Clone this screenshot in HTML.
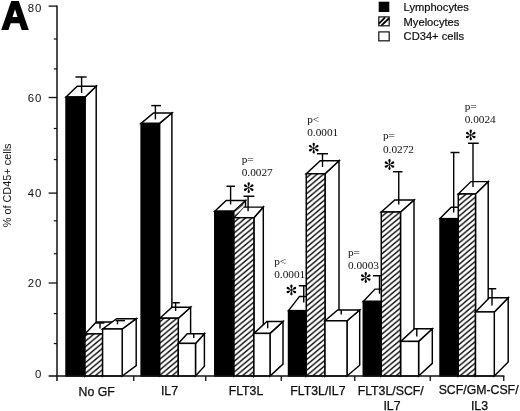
<!DOCTYPE html>
<html><head><meta charset="utf-8"><title>Figure A</title>
<style>
html,body{margin:0;padding:0;background:#fff;}
body{width:520px;height:411px;overflow:hidden;}
svg{display:block;filter:grayscale(1);}
text{font-family:"Liberation Sans",sans-serif;fill:#111;}
.ser{font-family:"Liberation Serif",serif;}
</style></head><body>
<svg width="520" height="411" viewBox="0 0 520 411">
<defs>
<pattern id="hatch" patternUnits="userSpaceOnUse" width="6.400" height="5.350" x="0" y="0.64">
<rect width="6.400" height="5.350" fill="#fff"/>
<path d="M-1.600,1.337 L1.600,-1.337 M-1.600,6.688 L8.000,-1.337 M4.800,6.688 L8.000,4.012" stroke="#000" stroke-width="1.32" fill="none"/>
</pattern>
</defs>
<rect width="520" height="411" fill="#fff"/>
<text transform="translate(1.5,28.9) scale(0.95,1)" font-size="39.5" font-weight="bold" style="fill:#000;stroke:#000;stroke-width:1.8px;stroke-linejoin:miter">A</text>
<rect x="378.7" y="1.7" width="10.6" height="10.3" fill="#000"/>
<rect x="378.8" y="16.9" width="10.4" height="8.9" fill="#fff" stroke="#111" stroke-width="1.2"/>
<path d="M378.9,23.6 L385.1,17.3 M381.3,25.6 L389.1,18.3" stroke="#000" stroke-width="1.9" fill="none"/>
<rect x="378.8" y="31.9" width="10.4" height="8.9" fill="#fff" stroke="#111" stroke-width="1.2"/>
<text x="403.6" y="10.6" font-size="11.15" stroke="#000" stroke-width="0.2">Lymphocytes</text>
<text x="403.6" y="25.5" font-size="11.15" stroke="#000" stroke-width="0.2">Myelocytes</text>
<text x="403.6" y="40.1" font-size="11.15" stroke="#000" stroke-width="0.2">CD34+ cells</text>
<text transform="translate(11.1,185.4) rotate(-90)" text-anchor="middle" font-size="10.9">% of CD45+ cells</text>
<path d="M85.00,97.00 L96.20,86.30 L96.20,365.30 L85.00,376.00 Z" fill="#fff" stroke="#000" stroke-width="1.45" stroke-linejoin="miter"/>
<path d="M66.00,97.00 L77.20,86.30 L96.20,86.30 L85.00,97.00 Z" fill="#fff" stroke="#000" stroke-width="1.45" stroke-linejoin="miter"/>
<rect x="66.00" y="97.00" width="19.00" height="279.00" fill="#000" stroke="#000" stroke-width="1.45"/>
<path d="M102.60,333.90 L113.90,322.00 L113.90,364.10 L102.60,376.00 Z" fill="#fff" stroke="#000" stroke-width="1.45" stroke-linejoin="miter"/>
<path d="M85.00,333.90 L96.30,322.00 L113.90,322.00 L102.60,333.90 Z" fill="#fff" stroke="#000" stroke-width="1.45" stroke-linejoin="miter"/>
<rect x="85.00" y="333.90" width="17.60" height="42.10" fill="url(#hatch)" stroke="#000" stroke-width="1.45"/>
<path d="M122.20,329.00 L136.20,318.70 L136.20,365.70 L122.20,376.00 Z" fill="#fff" stroke="#000" stroke-width="1.45" stroke-linejoin="miter"/>
<path d="M102.60,329.00 L116.60,318.70 L136.20,318.70 L122.20,329.00 Z" fill="#fff" stroke="#000" stroke-width="1.45" stroke-linejoin="miter"/>
<rect x="102.60" y="329.00" width="19.60" height="47.00" fill="#fff" stroke="#000" stroke-width="1.45"/>
<path d="M159.50,123.40 L171.90,113.00 L171.90,365.60 L159.50,376.00 Z" fill="#fff" stroke="#000" stroke-width="1.45" stroke-linejoin="miter"/>
<path d="M141.10,123.40 L153.50,113.00 L171.90,113.00 L159.50,123.40 Z" fill="#fff" stroke="#000" stroke-width="1.45" stroke-linejoin="miter"/>
<rect x="141.10" y="123.40" width="18.40" height="252.60" fill="#000" stroke="#000" stroke-width="1.45"/>
<path d="M178.30,318.20 L190.60,307.20 L190.60,365.00 L178.30,376.00 Z" fill="#fff" stroke="#000" stroke-width="1.45" stroke-linejoin="miter"/>
<path d="M159.75,318.20 L172.05,307.20 L190.60,307.20 L178.30,318.20 Z" fill="#fff" stroke="#000" stroke-width="1.45" stroke-linejoin="miter"/>
<rect x="159.75" y="318.20" width="18.55" height="57.80" fill="url(#hatch)" stroke="#000" stroke-width="1.45"/>
<path d="M195.50,343.40 L204.40,333.70 L204.40,366.30 L195.50,376.00 Z" fill="#fff" stroke="#000" stroke-width="1.45" stroke-linejoin="miter"/>
<path d="M178.30,343.40 L187.20,333.70 L204.40,333.70 L195.50,343.40 Z" fill="#fff" stroke="#000" stroke-width="1.45" stroke-linejoin="miter"/>
<rect x="178.30" y="343.40" width="17.20" height="32.60" fill="#fff" stroke="#000" stroke-width="1.45"/>
<path d="M234.00,211.25 L245.50,200.55 L245.50,365.30 L234.00,376.00 Z" fill="#fff" stroke="#000" stroke-width="1.45" stroke-linejoin="miter"/>
<path d="M214.75,211.25 L226.25,200.55 L245.50,200.55 L234.00,211.25 Z" fill="#fff" stroke="#000" stroke-width="1.45" stroke-linejoin="miter"/>
<rect x="214.75" y="211.25" width="19.25" height="164.75" fill="#000" stroke="#000" stroke-width="1.45"/>
<path d="M253.90,217.70 L263.30,207.10 L263.30,365.40 L253.90,376.00 Z" fill="#fff" stroke="#000" stroke-width="1.45" stroke-linejoin="miter"/>
<path d="M234.00,217.70 L243.40,207.10 L263.30,207.10 L253.90,217.70 Z" fill="#fff" stroke="#000" stroke-width="1.45" stroke-linejoin="miter"/>
<rect x="234.00" y="217.70" width="19.90" height="158.30" fill="url(#hatch)" stroke="#000" stroke-width="1.45"/>
<path d="M270.00,333.40 L283.00,321.50 L283.00,364.10 L270.00,376.00 Z" fill="#fff" stroke="#000" stroke-width="1.45" stroke-linejoin="miter"/>
<path d="M253.90,333.40 L266.90,321.50 L283.00,321.50 L270.00,333.40 Z" fill="#fff" stroke="#000" stroke-width="1.45" stroke-linejoin="miter"/>
<rect x="253.90" y="333.40" width="16.10" height="42.60" fill="#fff" stroke="#000" stroke-width="1.45"/>
<path d="M306.25,310.60 L317.25,296.40 L317.25,361.80 L306.25,376.00 Z" fill="#fff" stroke="#000" stroke-width="1.45" stroke-linejoin="miter"/>
<path d="M288.50,310.60 L299.50,296.40 L317.25,296.40 L306.25,310.60 Z" fill="#fff" stroke="#000" stroke-width="1.45" stroke-linejoin="miter"/>
<rect x="288.50" y="310.60" width="17.75" height="65.40" fill="#000" stroke="#000" stroke-width="1.45"/>
<path d="M325.00,173.75 L339.00,160.75 L339.00,363.00 L325.00,376.00 Z" fill="#fff" stroke="#000" stroke-width="1.45" stroke-linejoin="miter"/>
<path d="M306.25,173.75 L320.25,160.75 L339.00,160.75 L325.00,173.75 Z" fill="#fff" stroke="#000" stroke-width="1.45" stroke-linejoin="miter"/>
<rect x="306.25" y="173.75" width="18.75" height="202.25" fill="url(#hatch)" stroke="#000" stroke-width="1.45"/>
<path d="M347.00,320.80 L359.70,310.00 L359.70,365.20 L347.00,376.00 Z" fill="#fff" stroke="#000" stroke-width="1.45" stroke-linejoin="miter"/>
<path d="M325.00,320.80 L337.70,310.00 L359.70,310.00 L347.00,320.80 Z" fill="#fff" stroke="#000" stroke-width="1.45" stroke-linejoin="miter"/>
<rect x="325.00" y="320.80" width="22.00" height="55.20" fill="#fff" stroke="#000" stroke-width="1.45"/>
<path d="M381.25,301.40 L393.00,289.10 L393.00,363.70 L381.25,376.00 Z" fill="#fff" stroke="#000" stroke-width="1.45" stroke-linejoin="miter"/>
<path d="M363.25,301.40 L375.00,289.10 L393.00,289.10 L381.25,301.40 Z" fill="#fff" stroke="#000" stroke-width="1.45" stroke-linejoin="miter"/>
<rect x="363.25" y="301.40" width="18.00" height="74.60" fill="#000" stroke="#000" stroke-width="1.45"/>
<path d="M400.50,212.00 L414.00,200.00 L414.00,364.00 L400.50,376.00 Z" fill="#fff" stroke="#000" stroke-width="1.45" stroke-linejoin="miter"/>
<path d="M381.25,212.00 L394.75,200.00 L414.00,200.00 L400.50,212.00 Z" fill="#fff" stroke="#000" stroke-width="1.45" stroke-linejoin="miter"/>
<rect x="381.25" y="212.00" width="19.25" height="164.00" fill="url(#hatch)" stroke="#000" stroke-width="1.45"/>
<path d="M418.60,341.40 L432.30,328.80 L432.30,363.40 L418.60,376.00 Z" fill="#fff" stroke="#000" stroke-width="1.45" stroke-linejoin="miter"/>
<path d="M400.80,341.40 L414.50,328.80 L432.30,328.80 L418.60,341.40 Z" fill="#fff" stroke="#000" stroke-width="1.45" stroke-linejoin="miter"/>
<rect x="400.80" y="341.40" width="17.80" height="34.60" fill="#fff" stroke="#000" stroke-width="1.45"/>
<path d="M458.25,218.60 L469.50,207.20 L469.50,364.60 L458.25,376.00 Z" fill="#fff" stroke="#000" stroke-width="1.45" stroke-linejoin="miter"/>
<path d="M440.00,218.60 L451.25,207.20 L469.50,207.20 L458.25,218.60 Z" fill="#fff" stroke="#000" stroke-width="1.45" stroke-linejoin="miter"/>
<rect x="440.00" y="218.60" width="18.25" height="157.40" fill="#000" stroke="#000" stroke-width="1.45"/>
<path d="M475.50,194.00 L488.20,181.60 L488.20,363.60 L475.50,376.00 Z" fill="#fff" stroke="#000" stroke-width="1.45" stroke-linejoin="miter"/>
<path d="M458.25,194.00 L470.95,181.60 L488.20,181.60 L475.50,194.00 Z" fill="#fff" stroke="#000" stroke-width="1.45" stroke-linejoin="miter"/>
<rect x="458.25" y="194.00" width="17.25" height="182.00" fill="url(#hatch)" stroke="#000" stroke-width="1.45"/>
<path d="M494.30,311.90 L508.20,297.80 L508.20,361.90 L494.30,376.00 Z" fill="#fff" stroke="#000" stroke-width="1.45" stroke-linejoin="miter"/>
<path d="M475.50,311.90 L489.40,297.80 L508.20,297.80 L494.30,311.90 Z" fill="#fff" stroke="#000" stroke-width="1.45" stroke-linejoin="miter"/>
<rect x="475.50" y="311.90" width="18.80" height="64.10" fill="#fff" stroke="#000" stroke-width="1.45"/>
<path d="M234.6,211.0 L243.4,202.9 L243.4,207.4 L234.6,217.2 Z" fill="url(#hatch)" stroke="none"/>
<path d="M57,5.4 L57,381" stroke="#111" stroke-width="1.5" fill="none"/>
<path d="M48.6,376 L504.4,376" stroke="#111" stroke-width="1.5" fill="none"/>
<path d="M48.6,6.10 L57,6.10" stroke="#111" stroke-width="1.3" fill="none"/>
<path d="M48.6,97.50 L57,97.50" stroke="#111" stroke-width="1.3" fill="none"/>
<path d="M48.6,193.10 L57,193.10" stroke="#111" stroke-width="1.3" fill="none"/>
<path d="M48.6,283.00 L57,283.00" stroke="#111" stroke-width="1.3" fill="none"/>
<path d="M53.8,39.00 L57,39.00" stroke="#111" stroke-width="1.2" fill="none"/>
<path d="M53.8,68.90 L57,68.90" stroke="#111" stroke-width="1.2" fill="none"/>
<path d="M53.8,128.50 L57,128.50" stroke="#111" stroke-width="1.2" fill="none"/>
<path d="M53.8,159.60 L57,159.60" stroke="#111" stroke-width="1.2" fill="none"/>
<path d="M53.8,220.80 L57,220.80" stroke="#111" stroke-width="1.2" fill="none"/>
<path d="M53.8,253.70 L57,253.70" stroke="#111" stroke-width="1.2" fill="none"/>
<path d="M53.8,313.60 L57,313.60" stroke="#111" stroke-width="1.2" fill="none"/>
<path d="M53.8,343.60 L57,343.60" stroke="#111" stroke-width="1.2" fill="none"/>
<path d="M133.75,376 L133.75,381" stroke="#111" stroke-width="1.3" fill="none"/>
<path d="M205.75,376 L205.75,381" stroke="#111" stroke-width="1.3" fill="none"/>
<path d="M281.25,376 L281.25,381" stroke="#111" stroke-width="1.3" fill="none"/>
<path d="M354.75,376 L354.75,381" stroke="#111" stroke-width="1.3" fill="none"/>
<path d="M430.25,376 L430.25,381" stroke="#111" stroke-width="1.3" fill="none"/>
<path d="M503.75,376 L503.75,381" stroke="#111" stroke-width="1.3" fill="none"/>
<text transform="translate(42.5,11.50) scale(1.12,1)" text-anchor="end" font-size="10.2" letter-spacing="0.94">80</text>
<text transform="translate(42.5,101.60) scale(1.12,1)" text-anchor="end" font-size="10.2" letter-spacing="0.94">60</text>
<text transform="translate(42.5,196.50) scale(1.12,1)" text-anchor="end" font-size="10.2" letter-spacing="0.94">40</text>
<text transform="translate(42.5,287.40) scale(1.12,1)" text-anchor="end" font-size="10.2" letter-spacing="0.94">20</text>
<text transform="translate(42.5,377.90) scale(1.12,1)" text-anchor="end" font-size="10.2" letter-spacing="0.94">0</text>
<path d="M81.60,77.00 L81.60,93.00" stroke="#000" stroke-width="1.4" fill="none"/>
<path d="M75.40,77.00 L86.60,77.00" stroke="#000" stroke-width="1.45" fill="none"/>
<path d="M100.00,323.00 L100.00,328.50" stroke="#000" stroke-width="1.4" fill="none"/>
<path d="M95.60,323.00 L104.40,323.00" stroke="#000" stroke-width="1.45" fill="none"/>
<path d="M117.50,320.60 L117.50,324.40" stroke="#000" stroke-width="1.4" fill="none"/>
<path d="M115.60,320.60 L125.00,320.60" stroke="#000" stroke-width="1.45" fill="none"/>
<path d="M155.40,105.60 L155.40,119.40" stroke="#000" stroke-width="1.4" fill="none"/>
<path d="M151.25,105.60 L161.00,105.60" stroke="#000" stroke-width="1.45" fill="none"/>
<path d="M175.60,302.75 L175.60,311.00" stroke="#000" stroke-width="1.4" fill="none"/>
<path d="M172.50,302.75 L179.75,302.75" stroke="#000" stroke-width="1.45" fill="none"/>
<path d="M193.75,333.75 L193.75,338.00" stroke="#000" stroke-width="1.4" fill="none"/>
<path d="M230.60,186.25 L230.60,204.40" stroke="#000" stroke-width="1.4" fill="none"/>
<path d="M226.50,186.25 L235.00,186.25" stroke="#000" stroke-width="1.45" fill="none"/>
<path d="M248.10,196.25 L248.10,211.25" stroke="#000" stroke-width="1.4" fill="none"/>
<path d="M243.50,196.25 L254.40,196.25" stroke="#000" stroke-width="1.45" fill="none"/>
<path d="M267.70,321.50 L267.70,328.30" stroke="#000" stroke-width="1.4" fill="none"/>
<path d="M303.75,285.75 L303.75,302.50" stroke="#000" stroke-width="1.4" fill="none"/>
<path d="M298.75,285.75 L306.00,285.75" stroke="#000" stroke-width="1.45" fill="none"/>
<path d="M322.50,153.75 L322.50,167.00" stroke="#000" stroke-width="1.4" fill="none"/>
<path d="M317.00,153.75 L328.00,153.75" stroke="#000" stroke-width="1.45" fill="none"/>
<path d="M341.25,310.00 L341.25,314.50" stroke="#000" stroke-width="1.4" fill="none"/>
<path d="M379.50,275.75 L379.50,293.75" stroke="#000" stroke-width="1.4" fill="none"/>
<path d="M373.00,275.75 L381.00,275.75" stroke="#000" stroke-width="1.45" fill="none"/>
<path d="M398.75,171.75 L398.75,204.50" stroke="#000" stroke-width="1.4" fill="none"/>
<path d="M393.00,171.75 L402.50,171.75" stroke="#000" stroke-width="1.45" fill="none"/>
<path d="M416.80,328.80 L416.80,336.50" stroke="#000" stroke-width="1.4" fill="none"/>
<path d="M453.70,152.50 L453.70,212.50" stroke="#000" stroke-width="1.4" fill="none"/>
<path d="M450.50,152.50 L459.50,152.50" stroke="#000" stroke-width="1.45" fill="none"/>
<path d="M473.00,143.25 L473.00,187.00" stroke="#000" stroke-width="1.4" fill="none"/>
<path d="M468.00,143.25 L478.75,143.25" stroke="#000" stroke-width="1.45" fill="none"/>
<path d="M492.00,288.75 L492.00,305.50" stroke="#000" stroke-width="1.4" fill="none"/>
<path d="M488.00,288.75 L496.25,288.75" stroke="#000" stroke-width="1.45" fill="none"/>
<g transform="translate(248.70,187.60) scale(0.94)">
<path transform="rotate(0)" d="M0,-0.3 C-0.45,-2.2 -1.45,-3.7 -1.2,-4.9 C-1.0,-6.0 1.0,-6.0 1.2,-4.9 C1.45,-3.7 0.45,-2.2 0,-0.3 Z" fill="#000"/>
<path transform="rotate(60)" d="M0,-0.3 C-0.45,-2.2 -1.45,-3.7 -1.2,-4.9 C-1.0,-6.0 1.0,-6.0 1.2,-4.9 C1.45,-3.7 0.45,-2.2 0,-0.3 Z" fill="#000"/>
<path transform="rotate(120)" d="M0,-0.3 C-0.45,-2.2 -1.45,-3.7 -1.2,-4.9 C-1.0,-6.0 1.0,-6.0 1.2,-4.9 C1.45,-3.7 0.45,-2.2 0,-0.3 Z" fill="#000"/>
<path transform="rotate(180)" d="M0,-0.3 C-0.45,-2.2 -1.45,-3.7 -1.2,-4.9 C-1.0,-6.0 1.0,-6.0 1.2,-4.9 C1.45,-3.7 0.45,-2.2 0,-0.3 Z" fill="#000"/>
<path transform="rotate(240)" d="M0,-0.3 C-0.45,-2.2 -1.45,-3.7 -1.2,-4.9 C-1.0,-6.0 1.0,-6.0 1.2,-4.9 C1.45,-3.7 0.45,-2.2 0,-0.3 Z" fill="#000"/>
<path transform="rotate(300)" d="M0,-0.3 C-0.45,-2.2 -1.45,-3.7 -1.2,-4.9 C-1.0,-6.0 1.0,-6.0 1.2,-4.9 C1.45,-3.7 0.45,-2.2 0,-0.3 Z" fill="#000"/>
<circle r="1.0" fill="#000"/>
</g>
<g transform="translate(313.75,148.20) scale(0.94)">
<path transform="rotate(0)" d="M0,-0.3 C-0.45,-2.2 -1.45,-3.7 -1.2,-4.9 C-1.0,-6.0 1.0,-6.0 1.2,-4.9 C1.45,-3.7 0.45,-2.2 0,-0.3 Z" fill="#000"/>
<path transform="rotate(60)" d="M0,-0.3 C-0.45,-2.2 -1.45,-3.7 -1.2,-4.9 C-1.0,-6.0 1.0,-6.0 1.2,-4.9 C1.45,-3.7 0.45,-2.2 0,-0.3 Z" fill="#000"/>
<path transform="rotate(120)" d="M0,-0.3 C-0.45,-2.2 -1.45,-3.7 -1.2,-4.9 C-1.0,-6.0 1.0,-6.0 1.2,-4.9 C1.45,-3.7 0.45,-2.2 0,-0.3 Z" fill="#000"/>
<path transform="rotate(180)" d="M0,-0.3 C-0.45,-2.2 -1.45,-3.7 -1.2,-4.9 C-1.0,-6.0 1.0,-6.0 1.2,-4.9 C1.45,-3.7 0.45,-2.2 0,-0.3 Z" fill="#000"/>
<path transform="rotate(240)" d="M0,-0.3 C-0.45,-2.2 -1.45,-3.7 -1.2,-4.9 C-1.0,-6.0 1.0,-6.0 1.2,-4.9 C1.45,-3.7 0.45,-2.2 0,-0.3 Z" fill="#000"/>
<path transform="rotate(300)" d="M0,-0.3 C-0.45,-2.2 -1.45,-3.7 -1.2,-4.9 C-1.0,-6.0 1.0,-6.0 1.2,-4.9 C1.45,-3.7 0.45,-2.2 0,-0.3 Z" fill="#000"/>
<circle r="1.0" fill="#000"/>
</g>
<g transform="translate(291.40,290.00) scale(0.94)">
<path transform="rotate(0)" d="M0,-0.3 C-0.45,-2.2 -1.45,-3.7 -1.2,-4.9 C-1.0,-6.0 1.0,-6.0 1.2,-4.9 C1.45,-3.7 0.45,-2.2 0,-0.3 Z" fill="#000"/>
<path transform="rotate(60)" d="M0,-0.3 C-0.45,-2.2 -1.45,-3.7 -1.2,-4.9 C-1.0,-6.0 1.0,-6.0 1.2,-4.9 C1.45,-3.7 0.45,-2.2 0,-0.3 Z" fill="#000"/>
<path transform="rotate(120)" d="M0,-0.3 C-0.45,-2.2 -1.45,-3.7 -1.2,-4.9 C-1.0,-6.0 1.0,-6.0 1.2,-4.9 C1.45,-3.7 0.45,-2.2 0,-0.3 Z" fill="#000"/>
<path transform="rotate(180)" d="M0,-0.3 C-0.45,-2.2 -1.45,-3.7 -1.2,-4.9 C-1.0,-6.0 1.0,-6.0 1.2,-4.9 C1.45,-3.7 0.45,-2.2 0,-0.3 Z" fill="#000"/>
<path transform="rotate(240)" d="M0,-0.3 C-0.45,-2.2 -1.45,-3.7 -1.2,-4.9 C-1.0,-6.0 1.0,-6.0 1.2,-4.9 C1.45,-3.7 0.45,-2.2 0,-0.3 Z" fill="#000"/>
<path transform="rotate(300)" d="M0,-0.3 C-0.45,-2.2 -1.45,-3.7 -1.2,-4.9 C-1.0,-6.0 1.0,-6.0 1.2,-4.9 C1.45,-3.7 0.45,-2.2 0,-0.3 Z" fill="#000"/>
<circle r="1.0" fill="#000"/>
</g>
<g transform="translate(389.50,164.50) scale(0.94)">
<path transform="rotate(0)" d="M0,-0.3 C-0.45,-2.2 -1.45,-3.7 -1.2,-4.9 C-1.0,-6.0 1.0,-6.0 1.2,-4.9 C1.45,-3.7 0.45,-2.2 0,-0.3 Z" fill="#000"/>
<path transform="rotate(60)" d="M0,-0.3 C-0.45,-2.2 -1.45,-3.7 -1.2,-4.9 C-1.0,-6.0 1.0,-6.0 1.2,-4.9 C1.45,-3.7 0.45,-2.2 0,-0.3 Z" fill="#000"/>
<path transform="rotate(120)" d="M0,-0.3 C-0.45,-2.2 -1.45,-3.7 -1.2,-4.9 C-1.0,-6.0 1.0,-6.0 1.2,-4.9 C1.45,-3.7 0.45,-2.2 0,-0.3 Z" fill="#000"/>
<path transform="rotate(180)" d="M0,-0.3 C-0.45,-2.2 -1.45,-3.7 -1.2,-4.9 C-1.0,-6.0 1.0,-6.0 1.2,-4.9 C1.45,-3.7 0.45,-2.2 0,-0.3 Z" fill="#000"/>
<path transform="rotate(240)" d="M0,-0.3 C-0.45,-2.2 -1.45,-3.7 -1.2,-4.9 C-1.0,-6.0 1.0,-6.0 1.2,-4.9 C1.45,-3.7 0.45,-2.2 0,-0.3 Z" fill="#000"/>
<path transform="rotate(300)" d="M0,-0.3 C-0.45,-2.2 -1.45,-3.7 -1.2,-4.9 C-1.0,-6.0 1.0,-6.0 1.2,-4.9 C1.45,-3.7 0.45,-2.2 0,-0.3 Z" fill="#000"/>
<circle r="1.0" fill="#000"/>
</g>
<g transform="translate(365.75,277.50) scale(0.94)">
<path transform="rotate(0)" d="M0,-0.3 C-0.45,-2.2 -1.45,-3.7 -1.2,-4.9 C-1.0,-6.0 1.0,-6.0 1.2,-4.9 C1.45,-3.7 0.45,-2.2 0,-0.3 Z" fill="#000"/>
<path transform="rotate(60)" d="M0,-0.3 C-0.45,-2.2 -1.45,-3.7 -1.2,-4.9 C-1.0,-6.0 1.0,-6.0 1.2,-4.9 C1.45,-3.7 0.45,-2.2 0,-0.3 Z" fill="#000"/>
<path transform="rotate(120)" d="M0,-0.3 C-0.45,-2.2 -1.45,-3.7 -1.2,-4.9 C-1.0,-6.0 1.0,-6.0 1.2,-4.9 C1.45,-3.7 0.45,-2.2 0,-0.3 Z" fill="#000"/>
<path transform="rotate(180)" d="M0,-0.3 C-0.45,-2.2 -1.45,-3.7 -1.2,-4.9 C-1.0,-6.0 1.0,-6.0 1.2,-4.9 C1.45,-3.7 0.45,-2.2 0,-0.3 Z" fill="#000"/>
<path transform="rotate(240)" d="M0,-0.3 C-0.45,-2.2 -1.45,-3.7 -1.2,-4.9 C-1.0,-6.0 1.0,-6.0 1.2,-4.9 C1.45,-3.7 0.45,-2.2 0,-0.3 Z" fill="#000"/>
<path transform="rotate(300)" d="M0,-0.3 C-0.45,-2.2 -1.45,-3.7 -1.2,-4.9 C-1.0,-6.0 1.0,-6.0 1.2,-4.9 C1.45,-3.7 0.45,-2.2 0,-0.3 Z" fill="#000"/>
<circle r="1.0" fill="#000"/>
</g>
<g transform="translate(470.75,135.00) scale(0.94)">
<path transform="rotate(0)" d="M0,-0.3 C-0.45,-2.2 -1.45,-3.7 -1.2,-4.9 C-1.0,-6.0 1.0,-6.0 1.2,-4.9 C1.45,-3.7 0.45,-2.2 0,-0.3 Z" fill="#000"/>
<path transform="rotate(60)" d="M0,-0.3 C-0.45,-2.2 -1.45,-3.7 -1.2,-4.9 C-1.0,-6.0 1.0,-6.0 1.2,-4.9 C1.45,-3.7 0.45,-2.2 0,-0.3 Z" fill="#000"/>
<path transform="rotate(120)" d="M0,-0.3 C-0.45,-2.2 -1.45,-3.7 -1.2,-4.9 C-1.0,-6.0 1.0,-6.0 1.2,-4.9 C1.45,-3.7 0.45,-2.2 0,-0.3 Z" fill="#000"/>
<path transform="rotate(180)" d="M0,-0.3 C-0.45,-2.2 -1.45,-3.7 -1.2,-4.9 C-1.0,-6.0 1.0,-6.0 1.2,-4.9 C1.45,-3.7 0.45,-2.2 0,-0.3 Z" fill="#000"/>
<path transform="rotate(240)" d="M0,-0.3 C-0.45,-2.2 -1.45,-3.7 -1.2,-4.9 C-1.0,-6.0 1.0,-6.0 1.2,-4.9 C1.45,-3.7 0.45,-2.2 0,-0.3 Z" fill="#000"/>
<path transform="rotate(300)" d="M0,-0.3 C-0.45,-2.2 -1.45,-3.7 -1.2,-4.9 C-1.0,-6.0 1.0,-6.0 1.2,-4.9 C1.45,-3.7 0.45,-2.2 0,-0.3 Z" fill="#000"/>
<circle r="1.0" fill="#000"/>
</g>
<text class="ser" x="241.70" y="163.20" font-size="11.3">p=</text>
<text class="ser" x="241.70" y="176.45" font-size="11.3">0.0027</text>
<text class="ser" x="307.20" y="123.45" font-size="11.3">p&lt;</text>
<text class="ser" x="307.20" y="136.45" font-size="11.3">0.0001</text>
<text class="ser" x="274.20" y="265.20" font-size="11.3">p&lt;</text>
<text class="ser" x="274.20" y="277.95" font-size="11.3">0.0001</text>
<text class="ser" x="382.95" y="139.45" font-size="11.3">p=</text>
<text class="ser" x="382.95" y="152.70" font-size="11.3">0.0272</text>
<text class="ser" x="347.95" y="255.90" font-size="11.3">p=</text>
<text class="ser" x="347.95" y="268.90" font-size="11.3">0.0003</text>
<text class="ser" x="464.70" y="109.70" font-size="11.3">p=</text>
<text class="ser" x="464.70" y="123.20" font-size="11.3">0.0024</text>
<text x="96.70" y="396.00" text-anchor="middle" font-size="12.3" stroke="#000" stroke-width="0.25">No GF</text>
<text x="169.50" y="394.90" text-anchor="middle" font-size="12.3" stroke="#000" stroke-width="0.25">IL7</text>
<text x="246.00" y="394.80" text-anchor="middle" font-size="12.3" stroke="#000" stroke-width="0.25">FLT3L</text>
<text x="317.90" y="394.60" text-anchor="middle" font-size="12.3" stroke="#000" stroke-width="0.25">FLT3L/IL7</text>
<text x="390.70" y="394.90" text-anchor="middle" font-size="12.3" stroke="#000" stroke-width="0.25">FLT3L/SCF/</text>
<text x="392.00" y="410.10" text-anchor="middle" font-size="12.3" stroke="#000" stroke-width="0.25">IL7</text>
<text x="478.60" y="394.40" text-anchor="middle" font-size="12.3" stroke="#000" stroke-width="0.25">SCF/GM-CSF/</text>
<text x="479.50" y="409.90" text-anchor="middle" font-size="12.3" stroke="#000" stroke-width="0.25">IL3</text>
</svg>
</body></html>
